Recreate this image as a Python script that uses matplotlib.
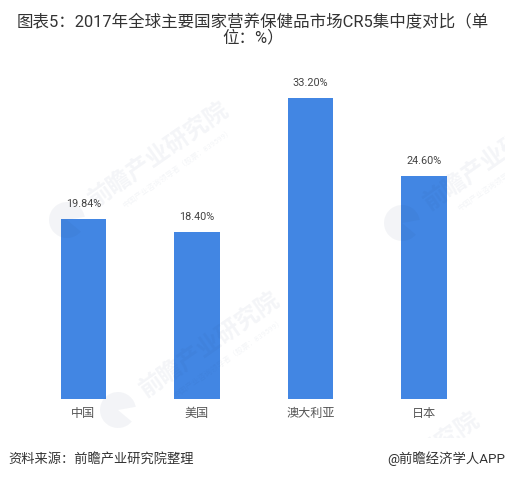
import matplotlib.pyplot as plt
from matplotlib.patches import Wedge

plt.rcParams['font.family'] = ['Roboto', 'Noto Sans CJK SC', 'DejaVu Sans']

categories = ['中国', '美国', '澳大利亚', '日本']
values = [19.84, 18.40, 33.20, 24.60]
title = '图表5：2017年全球主要国家营养保健品市场CR5集中度对比（单\n位：%）'

W, H = 506, 478
fig = plt.figure(figsize=(W / 100, H / 100), dpi=100)

ax = fig.add_axes([26.75 / W, 1 - 399 / H, 454 / W, 339 / H])
ax.bar(range(4), values, width=0.4, color='#4286e3')
for i, v in enumerate(values):
    ax.text(i, v + 1.1, '%.2f%%' % v, ha='center', va='bottom', fontsize=7.8, color='#444444')

ax.set_xlim(-0.5, 3.5)
ax.set_ylim(0, 339 / 9.066)
ax.set_xticks(range(4))
ax.set_xticklabels(categories, fontsize=8.7, color='#555555')
ax.tick_params(axis='x', length=0, pad=6)
ax.set_yticks([])
for s in ax.spines.values():
    s.set_visible(False)

# overlay in pixel coords for the watermarks, sits on top of the bars
wm = fig.add_axes([0, 0, 1, 1])
wm.set_xlim(0, W)
wm.set_ylim(H, 0)
wm.axis('off')
wm.patch.set_alpha(0)
clip = plt.Rectangle((0, 0), W, 438, transform=wm.transData)

wm_color = '#1f3a6b'
wm_alpha = 0.05
for x, y in [(67, 220), (118, 410), (402, 223), (318, 530)]:
    logo = Wedge((x, y), 18, 40, 350, color=wm_color, alpha=wm_alpha, lw=0)
    wm.add_patch(logo)
    logo.set_clip_path(clip)
    t1 = wm.text(x + 92, y - 65, '前瞻产业研究院', fontsize=17, color=wm_color, alpha=wm_alpha, rotation=35,
                 ha='center', va='center', fontweight='bold', clip_on=True)
    t2 = wm.text(x + 110, y - 52, '中国产业咨询领导者（股票：839599）', fontsize=5.5, color=wm_color, alpha=wm_alpha,
                 rotation=35, ha='center', va='center', clip_on=True)
    t1.set_clip_path(clip)
    t2.set_clip_path(clip)

fig.text(0.5, 1 - 13.5 / H, title, ha='center', va='top', fontsize=11.85, color='#333333', linespacing=1.0)
fig.text(8 / W, 1 - 459 / H, '资料来源：前瞻产业研究院整理', ha='left', va='center', fontsize=9.5,
         style='italic', color='#333333')
fig.text(505.5 / W, 1 - 459 / H, '@前瞻经济学人APP', ha='right', va='center', fontsize=9.6, color='#333333')

fig.savefig('out.png', dpi=100)
